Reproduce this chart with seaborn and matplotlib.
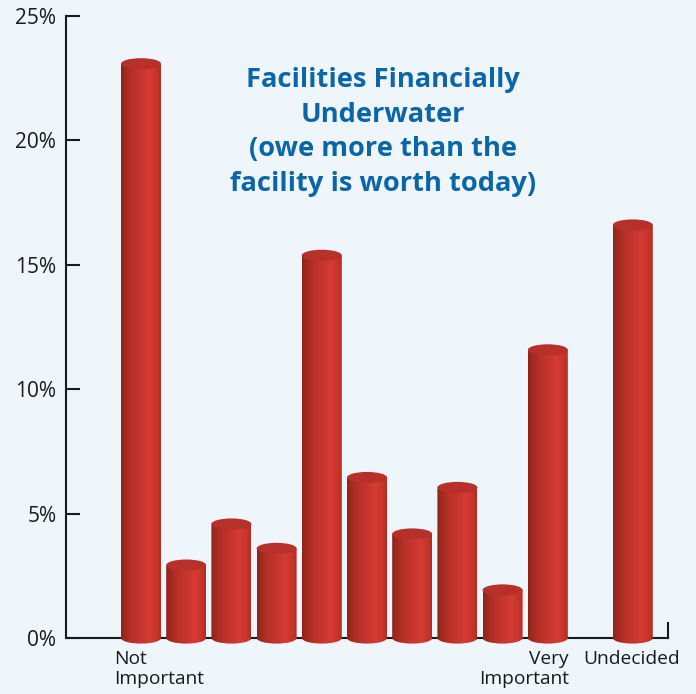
"""
Facilities financially underwater - red cylinder bars drawn on a seaborn barplot
"""

import numpy as np
import pandas as pd
import matplotlib
matplotlib.use("Agg")
import matplotlib.pyplot as plt
import seaborn as sns
from matplotlib.colors import LinearSegmentedColormap
from matplotlib.patches import Ellipse, PathPatch
from matplotlib.path import Path
from matplotlib.transforms import Affine2D

# values
ratings = ["1", "2", "3", "4", "5", "6", "7", "8", "9", "10", "Undecided"]
shares = [23.08, 2.93, 4.58, 3.6, 15.38, 6.45, 4.18, 6.05, 1.93, 11.58, 16.6]
y_ticks = [0, 5, 10, 15, 20, 25]
y_tick_labels = ["0%", "5%", "10%", "15%", "20%", "25%"]
title_text = "Facilities Financially\nUnderwater\n(owe more than the\nfacility is worth today)"

BG = "#eef5fb"
INK = "#1a1a1a"
BLUE = "#0b66a8"
LID = "#b7312a"
BAR_W = 40 / 45.2
LID_H = 0.45      # ellipse height, in % units

cyl = LinearSegmentedColormap.from_list("cyl", [
    (0.00, "#8f2319"), (0.10, "#a0291f"), (0.30, "#b93128"),
    (0.55, "#c93630"), (0.72, "#d53b33"), (0.90, "#c73429"), (1.00, "#b22d23"),
])

sns.set_theme(style="white", rc={"axes.facecolor": BG, "figure.facecolor": BG})
plt.rcParams["font.family"] = ["Open Sans", "DejaVu Sans"]

fig = plt.figure(figsize=(6.96, 6.94), dpi=100)
ax = fig.add_axes([66 / 696, 1 - 638 / 694, (668 - 66) / 696, (638 - 16) / 694])

# the last bar sits apart from the 1-10 scale
df = pd.DataFrame({"rating": ratings, "share": shares})
df["pos"] = [i if i < 10 else 10.88 for i in range(len(df))]

sns.barplot(data=df, x="pos", y="share", native_scale=True, width=BAR_W,
            color=LID, saturation=1, ax=ax, zorder=3)

xlim = (-75 / 45.2, 527 / 45.2)
ax.set_xlim(*xlim)
ax.set_ylim(0, 25)

gradient = np.linspace(0, 1, 128).reshape(1, -1)
for bar in list(ax.patches):
    x0, w, top = bar.get_x(), bar.get_width(), bar.get_height()
    cx = x0 + w / 2
    bar.set_visible(False)

    # body + rounded bottom, filled by a horizontal gradient
    rect = Path.unit_rectangle().transformed(Affine2D().scale(w, top).translate(x0, 0))
    base = Path.unit_circle().transformed(Affine2D().scale(w / 2, LID_H / 2).translate(cx, 0))
    outline = Path.make_compound_path(rect, base)
    im = ax.imshow(gradient, cmap=cyl, aspect="auto", zorder=3,
                   extent=(x0, x0 + w, -LID_H, top))
    im.set_clip_box(fig.bbox)  # the round bottom hangs below the axis
    im.set_clip_path(PathPatch(outline, transform=ax.transData))

    ax.add_patch(Ellipse((cx, top), w, LID_H, facecolor=LID, edgecolor="none",
                         zorder=3.2, clip_on=False))

ax.set_xlim(*xlim)
ax.set_ylim(0, 25)

# axes: left and bottom, plus the short stub at the right end
ax.spines["top"].set_visible(False)
for side in ["left", "bottom", "right"]:
    ax.spines[side].set_visible(True)
    ax.spines[side].set_color(INK)
    ax.spines[side].set_linewidth(1.5)
ax.spines["right"].set_bounds(0, 0.6)

ax.set_xlabel("")
ax.set_ylabel("")
ax.set_xticks([])
ax.set_yticks(y_ticks)
ax.set_yticklabels(y_tick_labels)
ax.tick_params(axis="y", direction="in", length=10, width=1.5, color=INK,
               labelcolor=INK, labelsize=15, pad=7, left=True)

# category captions, aligned to the bars they belong to
caption = dict(xycoords=ax.get_xaxis_transform(), textcoords="offset pixels",
               fontsize=13.8, color=INK, va="top", linespacing=1.17)
ax.annotate("Not\nImportant", (df["pos"].iloc[0], 0), xytext=(-27, -12), ha="left", **caption)
ax.annotate("Very\nImportant", (df["pos"].iloc[9], 0), xytext=(21, -12), ha="right", **caption)
ax.annotate("Undecided", (df["pos"].iloc[10], 0), xytext=(-1, -12), ha="center", **caption)

ax.text(383 / 696, 1 - 132 / 694, title_text, transform=fig.transFigure, ha="center",
        va="center", fontsize=19.6, fontweight="bold", color=BLUE, linespacing=1.43)

fig.savefig("out.png", dpi=100, facecolor=BG)
